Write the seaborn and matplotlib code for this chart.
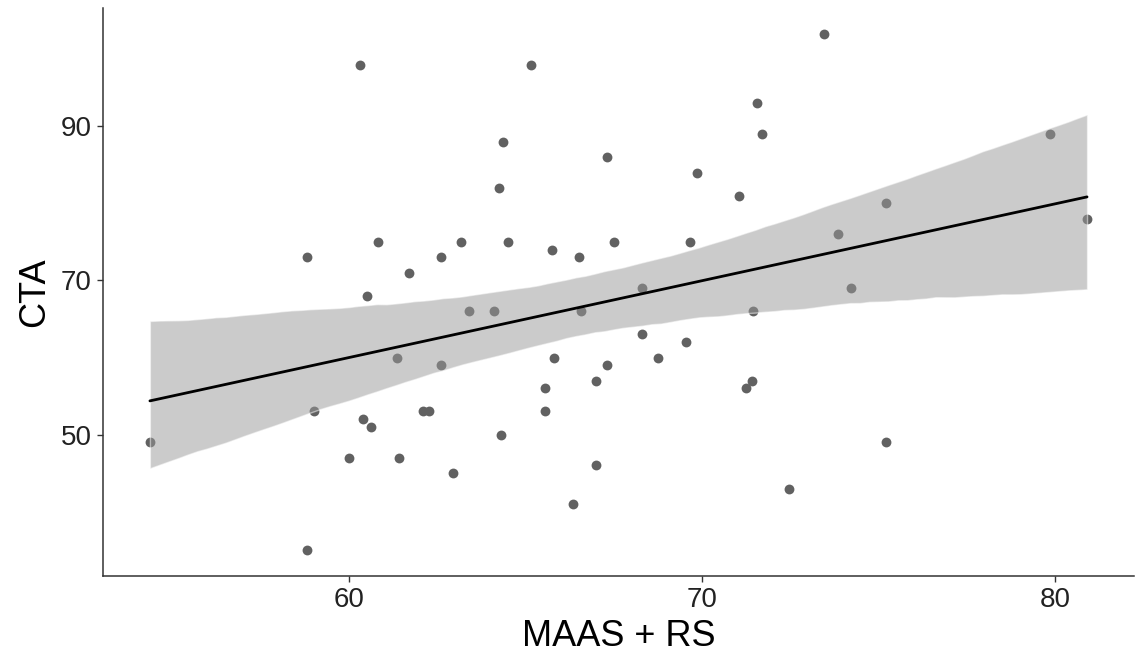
import numpy as np
import pandas as pd
import seaborn as sns
import matplotlib
matplotlib.use("Agg")
import matplotlib.pyplot as plt

# values
maas_rs = [60.3, 60.8, 58.8, 62.6, 63.15, 61.7, 60.5, 54.35, 59.0, 60.4,
           60.6, 60.0, 61.4, 62.95, 58.8, 61.35, 62.6, 62.1, 62.25, 65.15,
           71.55, 71.7, 64.35, 67.3, 69.85, 64.25, 71.05, 64.5, 65.75, 66.5,
           67.5, 69.65, 63.4, 64.1, 66.55, 68.3, 71.45, 68.3, 69.55, 65.8,
           68.75, 67.3, 67.0, 65.55, 65.55, 71.4, 71.25, 64.3, 67.0, 66.35,
           72.45, 73.45, 79.85, 75.2, 73.85, 80.9, 74.2, 75.2]
cta = [98, 75, 73, 73, 75, 71, 68, 49, 53, 52,
       51, 47, 47, 45, 35, 60, 59, 53, 53, 98,
       93, 89, 88, 86, 84, 82, 81, 75, 74, 73,
       75, 75, 66, 66, 66, 69, 66, 63, 62, 60,
       60, 59, 57, 56, 53, 57, 56, 50, 46, 41,
       43, 102, 89, 80, 76, 78, 69, 49]

df = pd.DataFrame({"MAAS + RS": maas_rs, "CTA": cta})

sns.set_style("ticks")
plt.rcParams["font.family"] = ["Liberation Sans", "DejaVu Sans"]

fig = plt.figure(figsize=(11.39, 6.67), dpi=100)
ax = fig.add_axes([0.0904, 0.1364, 0.9052, 0.8516])

sns.regplot(data=df, x="MAAS + RS", y="CTA", ax=ax, ci=95, n_boot=2000, seed=1,
            scatter_kws={"s": 50, "color": "#616161", "linewidths": 0, "alpha": 1},
            line_kws={"color": "black", "lw": 2})

# ggplot-like grey ribbon on top of the points
band = ax.collections[-1]
band.set_facecolor("#999999")
band.set_alpha(0.5)

ax.set_xlim(53.02, 82.23)
ax.set_ylim(31.65, 105.35)
ax.set_xticks([60, 70, 80])
ax.set_yticks([50, 70, 90])

for side in ["top", "right"]:
    ax.spines[side].set_visible(False)
for side in ["left", "bottom"]:
    ax.spines[side].set_color("#333333")
    ax.spines[side].set_linewidth(1.1)

ax.tick_params(axis="both", labelsize=20, colors="#333333", length=4, width=1,
               labelcolor="#222222", pad=4)
ax.set_xlabel("MAAS + RS", fontsize=26, labelpad=4, color="black")
ax.set_ylabel("CTA", fontsize=26, labelpad=6, color="black")

fig.savefig("out.png", dpi=100)
